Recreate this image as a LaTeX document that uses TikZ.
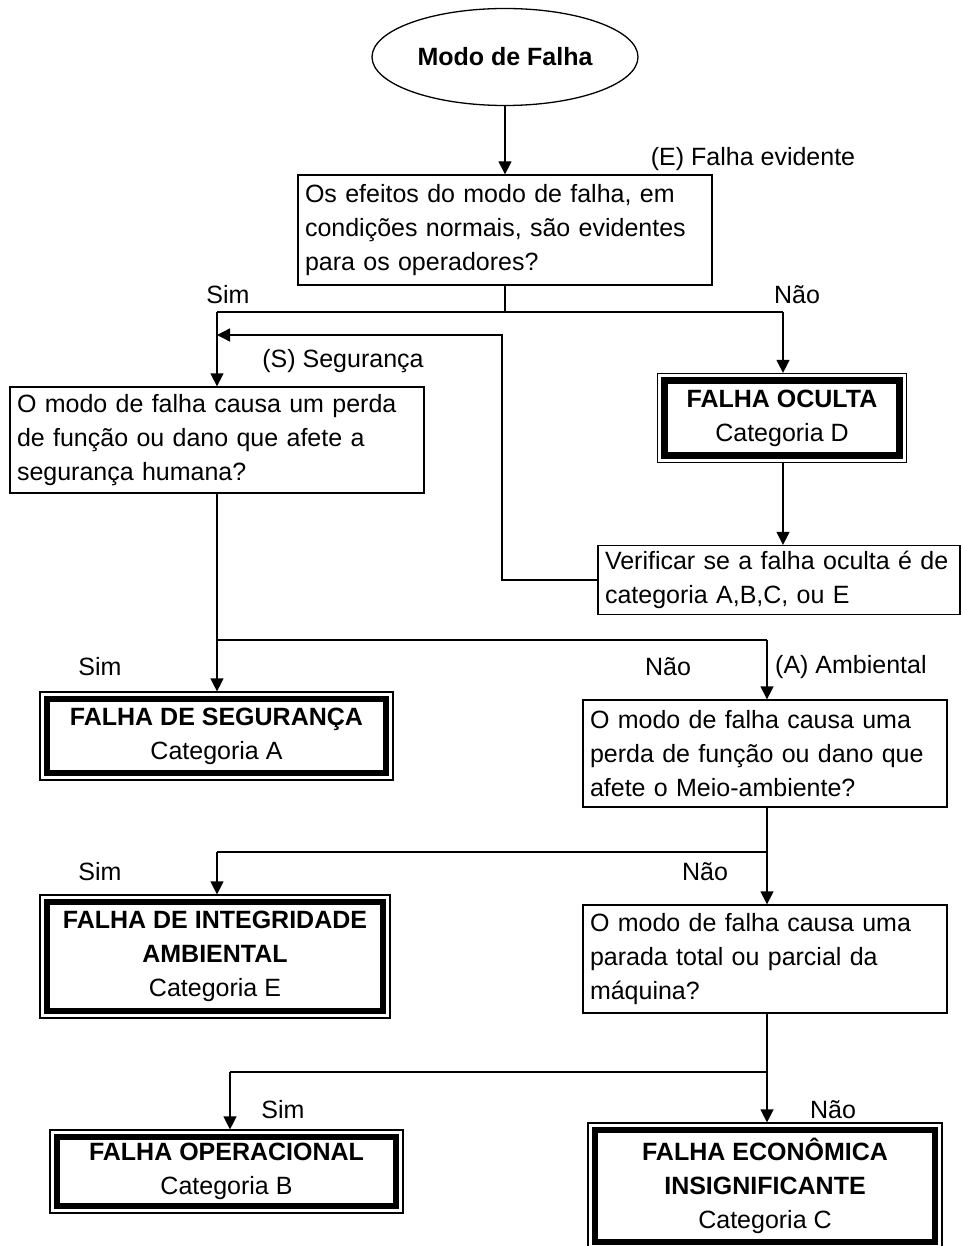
\documentclass[tikz,border=0pt]{standalone}
\usepackage{fontspec}
\setmainfont{Liberation Sans}
\usetikzlibrary{arrows.meta,shapes.geometric}
\begin{document}
\begin{tikzpicture}[x=1pt,y=-1pt,
  txt/.style={font=\fontsize{25}{34}\selectfont, inner sep=0pt},
  qbox/.style={draw, line width=1.3pt, font=\fontsize{25}{34}\selectfont, align=left, inner xsep=6pt, inner ysep=0pt},
  dbox/.style={draw, line width=1.2pt, font=\fontsize{25}{34}\selectfont, align=center, inner sep=0pt},
  arr/.style={line width=1.3pt, -{Triangle[length=13pt,width=13pt]}},
  ln/.style={line width=1.3pt}]
\useasboundingbox (0,0) rectangle (962,1246);
\fill[white] (0,0) rectangle (962,1246);

% start
\node[draw, ellipse, line width=1.3pt, minimum width=266pt, minimum height=97pt, inner sep=0pt,
      font=\fontsize{25}{34}\selectfont\bfseries] (ell) at (505,57) {Modo de Falha};

% question boxes
\node[qbox, minimum width=414pt, minimum height=110pt, text width=400pt] (q1) at (505,230)
  {Os efeitos do modo de falha, em\\condições normais, são evidentes\\para os operadores?};
\node[qbox, minimum width=414pt, minimum height=106pt, text width=400pt] (q2) at (217,440)
  {O modo de falha causa um perda\\de função ou dano que afete a\\segurança humana?};
\node[qbox, minimum width=362pt, minimum height=69pt, text width=348pt] (q5) at (779,580)
  {Verificar se a falha oculta é de\\categoria A,B,C, ou E};
\node[qbox, minimum width=364pt, minimum height=107pt, text width=350pt] (q6) at (765,753.5)
  {O modo de falha causa uma\\perda de função ou dano que\\afete o Meio-ambiente?};
\node[qbox, minimum width=364pt, minimum height=108pt, text width=350pt] (q8) at (765,959)
  {O modo de falha causa uma\\parada total ou parcial da\\máquina?};

% result boxes
\node[dbox, minimum width=249pt, minimum height=89pt] (oc) at (782,418)
  {\textbf{FALHA OCULTA}\\Categoria D};
\node[dbox, minimum width=353pt, minimum height=88pt] (seg) at (216.5,736)
  {\textbf{FALHA DE SEGURANÇA}\\Categoria A};
\node[dbox, minimum width=350pt, minimum height=123pt] (int) at (215,956.5)
  {\textbf{FALHA DE INTEGRIDADE}\\\textbf{AMBIENTAL}\\Categoria E};
\node[dbox, minimum width=353pt, minimum height=83pt] (op) at (226.5,1171.5)
  {\textbf{FALHA OPERACIONAL}\\Categoria B};
\node[dbox, minimum width=354pt, minimum height=126pt] (eco) at (765,1186)
  {\textbf{FALHA ECONÔMICA}\\\textbf{INSIGNIFICANTE}\\Categoria C};

\foreach \n in {oc,seg,int,op,eco}
  \draw[line width=6.5pt] ([xshift=7.5pt,yshift=-7.5pt]\n.north west) rectangle ([xshift=-7.5pt,yshift=7.5pt]\n.south east);

% labels
\node[txt] (lE) at (753,159) {(E) Falha evidente};
\node[txt] (lsim1) at (228,295) {Sim};
\node[txt] (lnao1) at (797,295) {Não};
\node[txt] (lS) at (343,361) {(S) Segurança};
\node[txt] (lsim2) at (100,667) {Sim};
\node[txt] (lnao2) at (668,667) {Não};
\node[txt, anchor=west] (lA) at (775,667) {(A) Ambiental};
\node[txt] (lsim3) at (100,872) {Sim};
\node[txt] (lnao3) at (705,872) {Não};
\node[txt] (lsim4) at (283,1110) {Sim};
\node[txt] (lnao4) at (833,1110) {Não};

% junctions
\coordinate (j1) at (505,312);
\coordinate (j1l) at (217,312);
\coordinate (j1r) at (783,312);
\coordinate (fb) at (502,335);
\coordinate (fbe) at (217,335);
\coordinate (j2) at (217,640);
\coordinate (j2r) at (767,640);
\coordinate (j3) at (767,852);
\coordinate (j3l) at (217,852);
\coordinate (j4) at (767,1072);
\coordinate (j4l) at (230,1072);

% connectors
\draw[arr] (ell) -- (q1);
\draw[ln] (q1.south) -- (j1);
\draw[ln] (j1l) -- (j1r);
\draw[arr] (j1l) -- (q2.north);
\draw[arr] (j1r) -- (j1r |- oc.north);
\draw[arr] (j1r |- oc.south) -- (j1r |- q5.north);
\draw[arr] (q5.west) -| (fb) -- (fbe);
\draw[ln] (q2.south) -- (j2) -- (j2r);
\draw[arr] (j2) -- (j2 |- seg.north);
\draw[arr] (j2r) -- (j2r |- q6.north);
\draw[ln] (j3 |- q6.south) -- (j3) -- (j3l);
\draw[arr] (j3l) -- (j3l |- int.north);
\draw[arr] (j3) -- (j3 |- q8.north);
\draw[ln] (j4 |- q8.south) -- (j4) -- (j4l);
\draw[arr] (j4l) -- (j4l |- op.north);
\draw[arr] (j4) -- (j4 |- eco.north);
\end{tikzpicture}
\end{document}
